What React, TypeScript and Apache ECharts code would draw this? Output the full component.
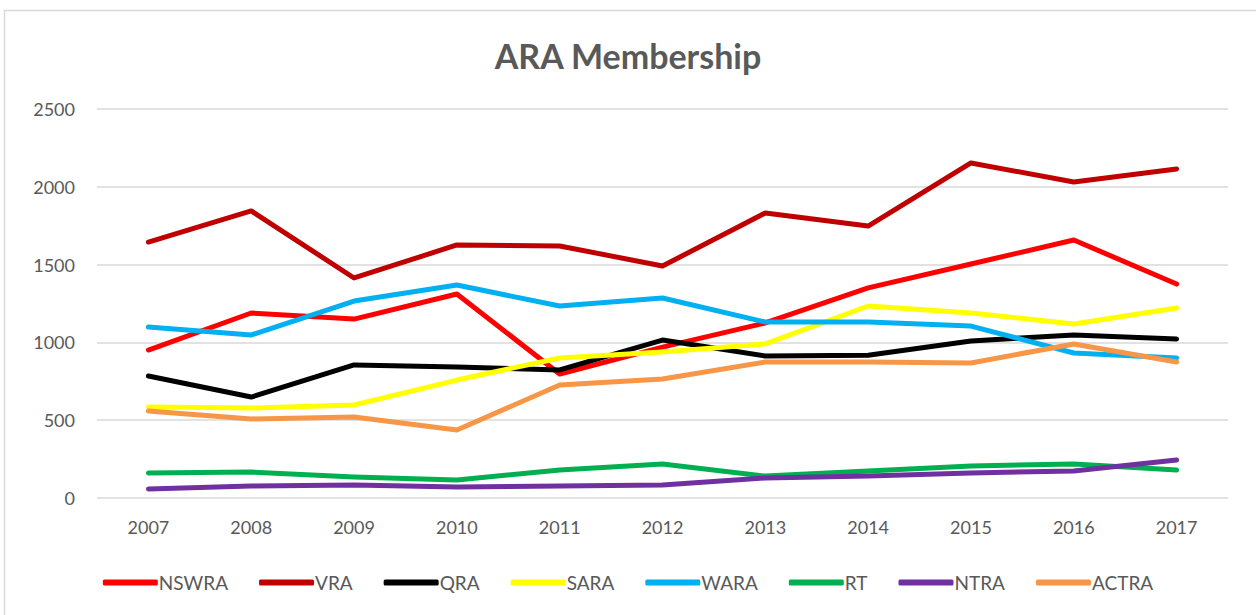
import React, { useEffect, useRef } from "react";
import * as echarts from "echarts";

const years = ["2007", "2008", "2009", "2010", "2011", "2012", "2013", "2014", "2015", "2016", "2017"];
const nswra = [951, 1189, 1150, 1311, 797, 970, 1125, 1350, 1504, 1658, 1375];
const vra = [1645, 1845, 1414, 1626, 1620, 1491, 1832, 1748, 2153, 2031, 2115];
const qra = [784, 649, 855, 842, 823, 1015, 913, 918, 1009, 1048, 1022];
const sara = [585, 578, 598, 758, 900, 938, 990, 1234, 1189, 1118, 1221];
const wara = [1099, 1048, 1266, 1369, 1234, 1285, 1131, 1131, 1105, 932, 900];
const rt = [161, 167, 135, 116, 180, 219, 141, 174, 206, 219, 180];
const ntra = [58, 77, 84, 71, 77, 84, 129, 141, 161, 174, 244];
const actra = [559, 508, 521, 437, 726, 765, 874, 874, 868, 990, 874];

const seriesDefs = [
  { name: "NSWRA", data: nswra, color: "#FF0000" },
  { name: "VRA", data: vra, color: "#C00000" },
  { name: "QRA", data: qra, color: "#000000" },
  { name: "SARA", data: sara, color: "#FFFF00" },
  { name: "WARA", data: wara, color: "#00B0F0" },
  { name: "RT", data: rt, color: "#00B050" },
  { name: "NTRA", data: ntra, color: "#7030A0" },
  { name: "ACTRA", data: actra, color: "#F79646" },
];

const FONT = "Lato, 'Open Sans', sans-serif";

export default function App() {
  const ref = useRef<HTMLDivElement>(null);
  useEffect(() => {
    document.body.style.margin = "0";
    const chart = echarts.init(ref.current!, null, { renderer: "svg" });
    chart.setOption({
      animation: false,
      backgroundColor: "#ffffff",
      textStyle: { fontFamily: FONT },
      title: {
        text: "ARA Membership",
        left: "center",
        top: 33,
        textStyle: { fontSize: 34, fontWeight: "bold", color: "#595959", fontFamily: FONT },
      },
      graphic: [
        {
          type: "rect",
          shape: { x: 4.5, y: 10.5, width: 1270, height: 620 },
          style: { fill: "none", stroke: "#d9d9d9", lineWidth: 1.5 },
          silent: true,
        },
      ],
      legend: {
        bottom: 18,
        left: "center",
        icon: "roundRect",
        itemWidth: 55,
        itemHeight: 6,
        itemGap: 31,
        textStyle: { fontSize: 19, color: "#595959", fontFamily: FONT, padding: [0, 0, 0, -4] },
        data: seriesDefs.map((s) => s.name),
      },
      grid: { left: 97, right: 28, top: 109, bottom: 117 },
      xAxis: {
        type: "category",
        data: years,
        boundaryGap: true,
        axisLine: { show: false },
        axisTick: { show: false },
        axisLabel: { fontSize: 18, color: "#595959", margin: 20, fontFamily: FONT },
      },
      yAxis: {
        type: "value",
        min: 0,
        max: 2500,
        interval: 500,
        axisLine: { show: false },
        axisTick: { show: false },
        axisLabel: {
          fontSize: 18,
          color: "#595959",
          margin: 22,
          fontFamily: FONT,
          formatter: (v: number) => String(v),
        },
        splitLine: { lineStyle: { color: "#d9d9d9", width: 1.5 } },
      },
      series: seriesDefs.map((s) => ({
        name: s.name,
        type: "line",
        data: s.data,
        symbol: "none",
        color: s.color,
        lineStyle: { width: 5, color: s.color, cap: "round", join: "round" },
        itemStyle: { color: s.color },
      })),
    });
    return () => chart.dispose();
  }, []);
  return (
    <div
      ref={ref}
      style={{ position: "absolute", left: 0, top: 0, width: 1256, height: 615 }}
    />
  );
}
